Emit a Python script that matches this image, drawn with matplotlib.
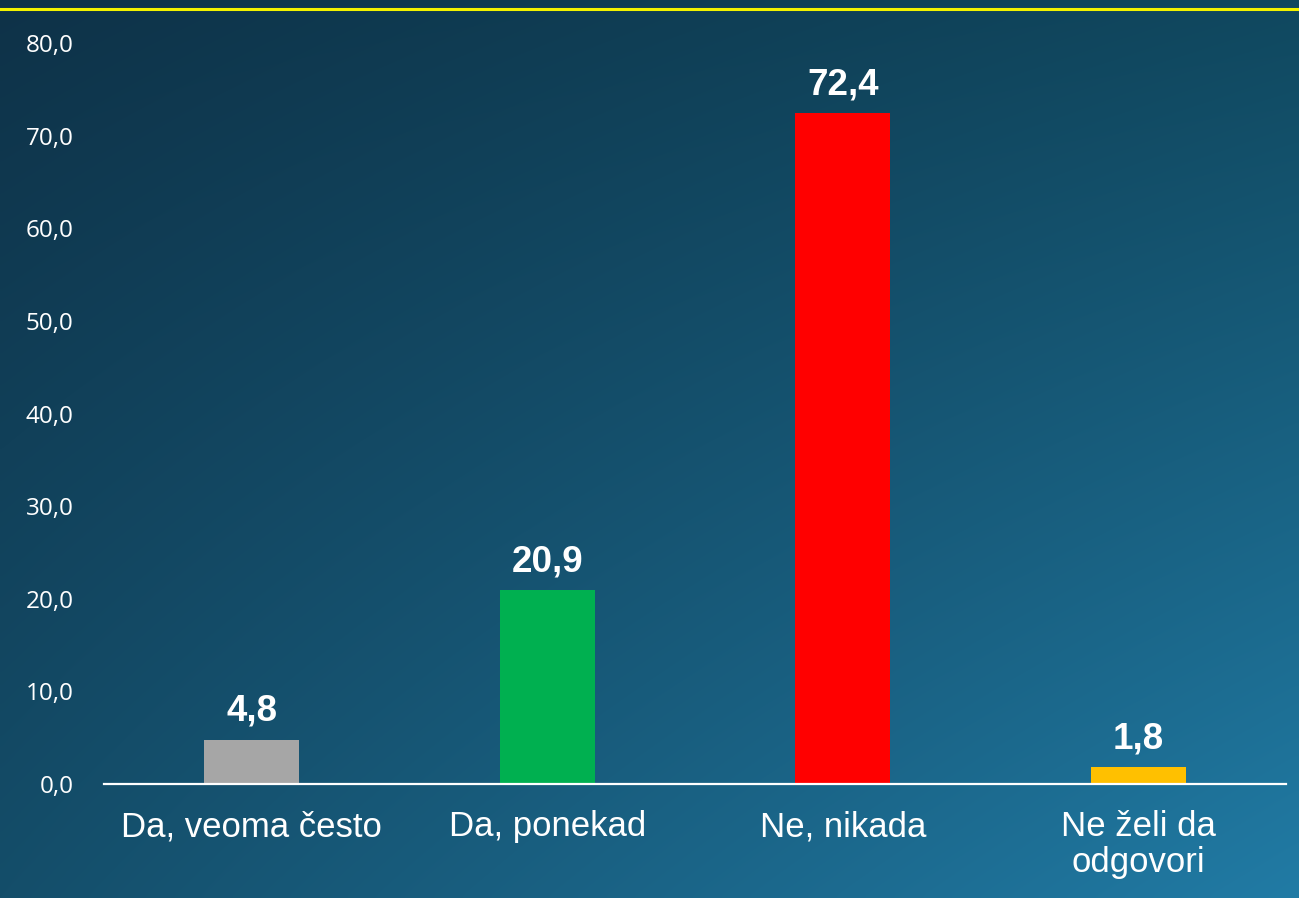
import numpy as np
import matplotlib.pyplot as plt
from matplotlib.lines import Line2D

categories = ['Da, veoma često', 'Da, ponekad', 'Ne, nikada', 'Ne želi da\nodgovori']
values = [4.8, 20.9, 72.4, 1.8]
bar_colors = ['#a6a6a6', '#00b050', '#ff0000', '#ffc000']
y_ticks = [0, 10, 20, 30, 40, 50, 60, 70, 80]

fig = plt.figure(figsize=(12.99, 8.98), dpi=100)

# background gradient (top-left dark -> bottom-right lighter blue)
tl = np.array([14, 50, 72]) / 255
tr = np.array([16, 72, 95]) / 255
bl = np.array([20, 78, 106]) / 255
br = np.array([33, 123, 165]) / 255
h, w = 200, 300
yy, xx = np.mgrid[0:1:h * 1j, 0:1:w * 1j]
grad = ((1 - yy)[..., None] * ((1 - xx)[..., None] * tl + xx[..., None] * tr)
        + yy[..., None] * ((1 - xx)[..., None] * bl + xx[..., None] * br))
bg = fig.add_axes([0, 0, 1, 1], zorder=0)
bg.imshow(grad, aspect='auto', extent=[0, 1, 0, 1], interpolation='bicubic')
bg.axis('off')

fig.add_artist(Line2D([0, 1], [1 - 8.5 / 898] * 2, color='#f2f200', lw=2.2))

ax = fig.add_axes([104 / 1299, 1 - 784 / 898, 1182 / 1299, 741 / 898], zorder=1)
ax.patch.set_alpha(0)

x = np.arange(len(categories))
bars = ax.bar(x, values, width=0.32, color=bar_colors, zorder=2)

for b, v in zip(bars, values):
    ax.annotate(f'{v:.1f}'.replace('.', ','), (b.get_x() + b.get_width() / 2, v),
                xytext=(0, 8), textcoords='offset points', ha='center', va='bottom',
                color='white', fontsize=26.5, fontweight='bold', family='Liberation Sans')

ax.set_xlim(-0.5, 3.5)
ax.set_ylim(0, 80)
ax.set_yticks(y_ticks)
ax.set_yticklabels([f'{t:.1f}'.replace('.', ',') for t in y_ticks],
                   color='white', fontsize=17.5, family='Open Sans')
ax.set_xticks(x)
ax.set_xticklabels(categories, color='white', fontsize=25, family='Liberation Sans',
                   linespacing=1.1)
ax.tick_params(axis='y', length=0, pad=22)
ax.tick_params(axis='x', length=0, pad=19)

for s in ['top', 'right', 'left']:
    ax.spines[s].set_visible(False)
ax.spines['bottom'].set_color('white')
ax.spines['bottom'].set_linewidth(1.6)
ax.spines['bottom'].set_zorder(3)

fig.savefig('out.png', dpi=100)
